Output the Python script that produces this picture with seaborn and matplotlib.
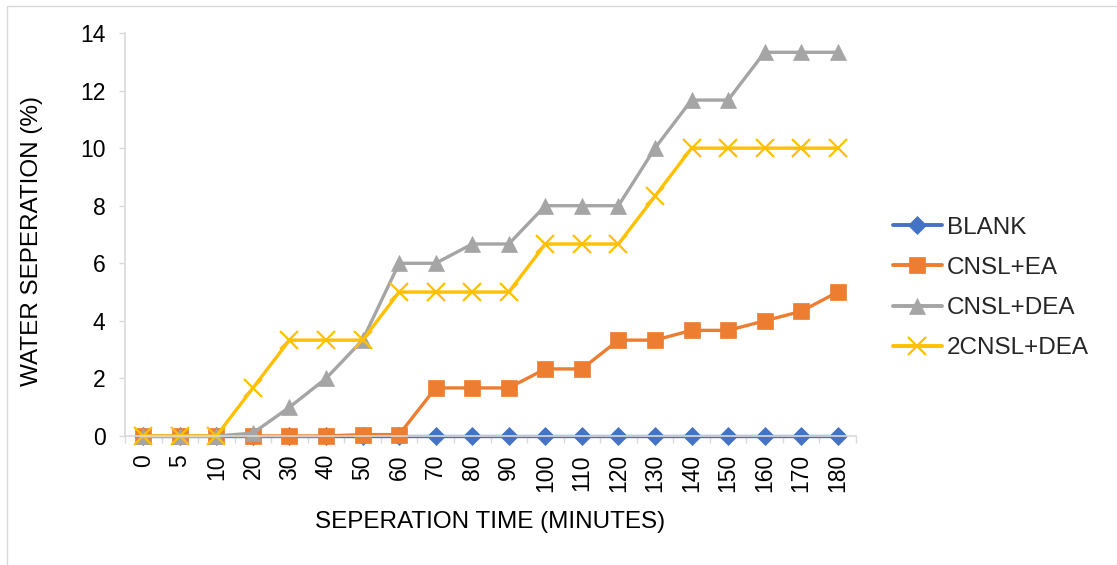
import numpy as np
import pandas as pd
import matplotlib
matplotlib.use("Agg")
import matplotlib.pyplot as plt
import seaborn as sns
from matplotlib.patches import Rectangle
from matplotlib.lines import Line2D

# Separation times (minutes) used as category labels
times = ["0", "5", "10", "20", "30", "40", "50", "60", "70", "80", "90",
         "100", "110", "120", "130", "140", "150", "160", "170", "180"]

# Water separation (%) for each demulsifier formulation
blank = [0, 0, 0, 0, 0, 0, 0, 0, 0, 0, 0, 0, 0, 0, 0, 0, 0, 0, 0, 0]
cnsl_ea = [0, 0, 0, 0, 0, 0, 0.05, 0.05, 1.67, 1.67, 1.67, 2.33, 2.33,
           3.33, 3.33, 3.67, 3.67, 4.0, 4.33, 5.0]
cnsl_dea = [0, 0, 0, 0.1, 1.0, 2.0, 3.33, 6.0, 6.0, 6.67, 6.67, 8.0, 8.0,
            8.0, 10.0, 11.67, 11.67, 13.33, 13.33, 13.33]
cnsl2_dea = [0, 0, 0, 1.67, 3.33, 3.33, 3.33, 5.0, 5.0, 5.0, 5.0, 6.67,
             6.67, 6.67, 8.33, 10.0, 10.0, 10.0, 10.0, 10.0]

series_names = ["BLANK", "CNSL+EA", "CNSL+DEA", "2CNSL+DEA"]
series_values = [blank, cnsl_ea, cnsl_dea, cnsl2_dea]

colors = ["#4472C4", "#ED7D31", "#A5A5A5", "#FFC000"]
markers = ["D", "s", "^", "x"]
msizes = [9.5, 12.0, 11.0, 12.5]

sns.set_theme(style="white")
plt.rcParams["font.family"] = ["Liberation Sans", "DejaVu Sans"]

fig = plt.figure(figsize=(11.17, 5.65), dpi=100)
ax = fig.add_axes([125 / 1117, 129 / 565, 731 / 1117, 403 / 565])

# outer chart frame
fig.patches.append(Rectangle((7 / 1117, -0.05), 1.2, 1.05 + (565 - 6) / 565 - 1.0,
                             transform=fig.transFigure, fill=False,
                             edgecolor="#D9D9D9", linewidth=1.0, zorder=0))

pos = np.arange(len(times))
handles = []
for name, vals, c, m, ms in zip(series_names, series_values, colors, markers, msizes):
    df = pd.DataFrame({"pos": pos, "value": vals})
    mew = 1.6 if m == "x" else 0.5
    sns.lineplot(data=df, x="pos", y="value", ax=ax, color=c, linewidth=2.4,
                 marker=m, markersize=ms, markeredgecolor=c, markerfacecolor=c,
                 markeredgewidth=mew, clip_on=False, legend=False)
    handles.append(Line2D([0], [0], color=c, linewidth=2.8, marker=m,
                          markersize=ms, markeredgecolor=c, markerfacecolor=c,
                          markeredgewidth=mew))

ax.set_xlim(-0.5, len(times) - 0.5)
ax.set_ylim(0, 14)
ax.set_yticks(np.arange(0, 15, 2))
ax.set_xticks(pos)
ax.set_xticklabels(times, rotation=90, fontsize=16.5, color="black")
ax.set_xticks(np.arange(-0.5, len(times), 1.0), minor=True)
ax.tick_params(axis="x", which="major", length=0, pad=13)
ax.tick_params(axis="x", which="minor", length=5, width=1.0, color="#D9D9D9",
               bottom=True)
ax.tick_params(axis="y", which="major", length=4, width=1.0, color="#D9D9D9",
               labelsize=16.5, labelcolor="black", pad=10, left=True)

for side in ["top", "right"]:
    ax.spines[side].set_visible(False)
for side in ["left", "bottom"]:
    ax.spines[side].set_color("#D9D9D9")
    ax.spines[side].set_linewidth(1.2)

ax.set_xlabel("SEPERATION TIME (MINUTES)", fontsize=17.5, color="black")
ax.set_ylabel("WATER SEPERATION (%)", fontsize=17.5, color="black")
ax.xaxis.set_label_coords(0.5, -0.185)
ax.yaxis.set_label_coords(-0.112, 0.483)

fig.legend(handles, series_names, loc="center left",
           bbox_to_anchor=(893 / 1117, (565 - 288) / 565), frameon=False,
           fontsize=17.5, handlelength=2.0, handletextpad=0.22,
           labelspacing=0.75, borderpad=0, borderaxespad=0)

fig.savefig("out.png", dpi=100)
